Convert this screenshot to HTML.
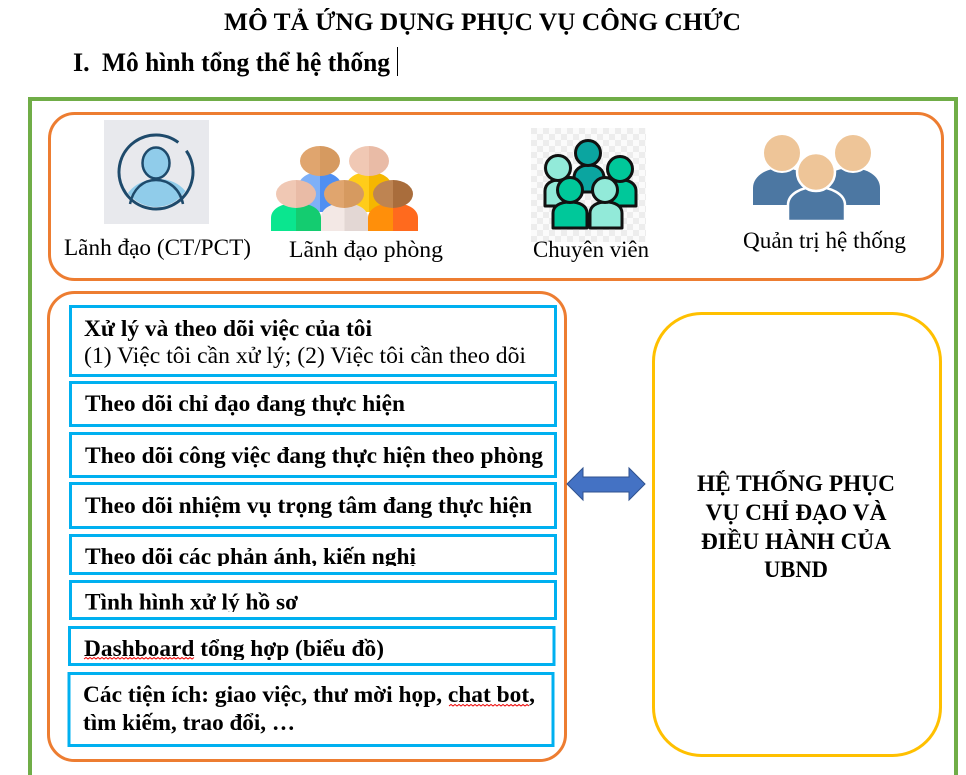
<!DOCTYPE html>
<html>
<head>
<meta charset="utf-8">
<style>
html,body{margin:0;padding:0;background:#fff;}
body{width:966px;height:775px;overflow:hidden;}
svg{display:block;}
text{font-family:"Liberation Serif","Times New Roman",serif;fill:#000;}
.b{font-weight:bold;}
</style>
</head>
<body>
<svg width="966" height="775" viewBox="0 0 966 775" xmlns="http://www.w3.org/2000/svg">
<defs>
  <linearGradient id="gBlue" x1="0" x2="1" y1="0" y2="0"><stop offset="0.5" stop-color="#7FB0F7"/><stop offset="0.5" stop-color="#4F8FF2"/></linearGradient>
  <linearGradient id="gYel" x1="0" x2="1" y1="0" y2="0"><stop offset="0.5" stop-color="#FFCC1A"/><stop offset="0.5" stop-color="#F5B700"/></linearGradient>
  <linearGradient id="gTan" x1="0" x2="1" y1="0" y2="0"><stop offset="0.5" stop-color="#E0A56E"/><stop offset="0.5" stop-color="#D69A60"/></linearGradient>
  <linearGradient id="gPink" x1="0" x2="1" y1="0" y2="0"><stop offset="0.5" stop-color="#F0C8B4"/><stop offset="0.5" stop-color="#E9BBA6"/></linearGradient>
  <linearGradient id="gBrown" x1="0" x2="1" y1="0" y2="0"><stop offset="0.5" stop-color="#BE8452"/><stop offset="0.5" stop-color="#A96D3C"/></linearGradient>
  <linearGradient id="gGreen" x1="0" x2="1" y1="0" y2="0"><stop offset="0.5" stop-color="#0AE68F"/><stop offset="0.5" stop-color="#14CC70"/></linearGradient>
  <linearGradient id="gLight" x1="0" x2="1" y1="0" y2="0"><stop offset="0.5" stop-color="#F3E8E5"/><stop offset="0.5" stop-color="#E3D7D4"/></linearGradient>
  <linearGradient id="gOrange" x1="0" x2="1" y1="0" y2="0"><stop offset="0.5" stop-color="#FF8F0A"/><stop offset="0.5" stop-color="#FF6A1E"/></linearGradient>
  <pattern id="chk" x="531" y="128" width="12" height="12" patternUnits="userSpaceOnUse">
    <rect width="12" height="12" fill="#FBFBFB"/>
    <rect width="6" height="6" fill="#EDEDED"/>
    <rect x="6" y="6" width="6" height="6" fill="#EDEDED"/>
  </pattern>
  <clipPath id="c1"><circle cx="156" cy="172" r="35"/></clipPath>
  <clipPath id="clip5"><rect x="70" y="530" width="480" height="36"/></clipPath>
  <clipPath id="clip6"><rect x="70" y="580" width="480" height="32"/></clipPath>
  <clipPath id="clip7"><rect x="70" y="626" width="480" height="34"/></clipPath>
</defs>

<!-- Title & heading -->
<text class="b" x="224" y="30" font-size="25.5" textLength="517" lengthAdjust="spacingAndGlyphs">MÔ TẢ ỨNG DỤNG PHỤC VỤ CÔNG CHỨC</text>
<text class="b" x="73" y="71" font-size="26">I.</text>
<text class="b" x="102" y="71" font-size="26" textLength="288" lengthAdjust="spacingAndGlyphs">Mô hình tổng thể hệ thống</text>
<line x1="397.5" y1="47" x2="397.5" y2="76" stroke="#000" stroke-width="1"/>

<!-- Green outer frame -->
<rect x="30" y="99" width="926" height="700" fill="none" stroke="#70AD47" stroke-width="4"/>

<!-- Top orange box -->
<rect x="49.5" y="113.5" width="893" height="166" rx="25" ry="25" fill="none" stroke="#ED7D31" stroke-width="3"/>

<!-- Icon 1 -->
<rect x="104" y="120" width="105" height="104" fill="#E8E9ED"/>
<path d="M118,228 C118,192 138,179 158,179 C178,179 196,192 196,228 Z" fill="#90CCEA" clip-path="url(#c1)"/>
<path d="M130,204 C133,189 143,180 156,180 C169,180 180,189 183,204" fill="none" stroke="#1E4A6B" stroke-width="2.5"/>
<ellipse cx="156" cy="163" rx="13.5" ry="15.5" fill="#90CCEA" stroke="#1E4A6B" stroke-width="2.5"/>
<circle cx="156" cy="172" r="37" fill="none" stroke="#1E4A6B" stroke-width="3" stroke-dasharray="220.5 12" transform="rotate(-35 156 172)"/>

<!-- Icon 2 -->
<path d="M298,212 V188 C298,178 308,172 320,172 C332,172 342,178 342,188 V212 Z" fill="url(#gBlue)"/>
<path d="M346,212 V188 C346,178 356,172 369,172 C382,172 392,178 392,188 V212 Z" fill="url(#gYel)"/>
<ellipse cx="320" cy="161" rx="20" ry="15" fill="url(#gTan)"/>
<ellipse cx="369" cy="161" rx="20" ry="15" fill="url(#gPink)"/>
<path d="M271,231 V218 C271,208 283,203 296,203 C309,203 321,208 321,218 V231 Z" fill="url(#gGreen)"/>
<path d="M321,231 V218 C321,208 332,203 344,203 C356,203 368,208 368,218 V231 Z" fill="url(#gLight)"/>
<path d="M368,231 V218 C368,208 380,203 393,203 C406,203 418,208 418,218 V231 Z" fill="url(#gOrange)"/>
<ellipse cx="296" cy="194" rx="20" ry="14" fill="url(#gPink)"/>
<ellipse cx="344" cy="194" rx="20" ry="14" fill="url(#gTan)"/>
<ellipse cx="393" cy="194" rx="20" ry="14" fill="url(#gBrown)"/>

<!-- Icon 3 -->
<rect x="531" y="128" width="115" height="114" fill="url(#chk)"/>
<g stroke="#111" stroke-width="3" stroke-linejoin="round">
  <path d="M574,192 V178 C574,170 580,165 589,165 C598,165 604,170 604,178 V192 Z" fill="#0BA5A0"/>
  <circle cx="588" cy="153" r="12.5" fill="#0BA5A0"/>
  <path d="M545,206 V191 C545,184 551,180 559,180 C567,180 573,184 573,191 V206 Z" fill="#92EAD9"/>
  <circle cx="558" cy="168" r="12.5" fill="#92EAD9"/>
  <path d="M608,206 V191 C608,184 614,180 622,180 C630,180 636,184 636,191 V206 Z" fill="#00C89A"/>
  <circle cx="620" cy="169" r="12.5" fill="#00C89A"/>
  <path d="M553,228 V213 C553,206 560,202 570,202 C580,202 587,206 587,213 V228 Z" fill="#00C89A"/>
  <circle cx="570" cy="190" r="12.5" fill="#00C89A"/>
  <path d="M590,228 V213 C590,206 597,202 606,202 C615,202 622,206 622,213 V228 Z" fill="#92EAD9"/>
  <circle cx="605" cy="190" r="12.5" fill="#92EAD9"/>
</g>

<!-- Icon 4 -->
<path d="M753,205 V188 C753,176 766,168 782,168 C798,168 811,176 811,188 V205 Z" fill="#4C77A2"/>
<path d="M822,205 V188 C822,176 835,168 851,168 C867,168 880,176 880,188 V205 Z" fill="#4C77A2"/>
<circle cx="782" cy="153" r="19" fill="#EEC598" stroke="#fff" stroke-width="2"/>
<circle cx="853" cy="153" r="19" fill="#EEC598" stroke="#fff" stroke-width="2"/>
<path d="M788,221 V205 C788,194 801,187 816,187 C831,187 845,194 845,205 V221 Z" fill="#4C77A2" stroke="#fff" stroke-width="2.5"/>
<circle cx="816" cy="172" r="19" fill="#EEC598" stroke="#fff" stroke-width="2.5"/>

<!-- Top labels -->
<text x="64" y="255" font-size="23.3" textLength="187" lengthAdjust="spacingAndGlyphs">Lãnh đạo (CT/PCT)</text>
<text x="289" y="257" font-size="23.3" textLength="154" lengthAdjust="spacingAndGlyphs">Lãnh đạo phòng</text>
<text x="533" y="257" font-size="23.3" textLength="116" lengthAdjust="spacingAndGlyphs">Chuyên viên</text>
<text x="743" y="248" font-size="23.3" textLength="163" lengthAdjust="spacingAndGlyphs">Quản trị hệ thống</text>

<!-- Left orange box -->
<rect x="48.5" y="292.5" width="517" height="468" rx="26" ry="26" fill="none" stroke="#ED7D31" stroke-width="3"/>

<!-- Blue boxes -->
<g fill="none" stroke="#00B0F0" stroke-width="3">
  <rect x="70.5" y="306.5" width="485" height="69"/>
  <rect x="70.5" y="382.5" width="485" height="43"/>
  <rect x="70.5" y="433.5" width="485" height="43"/>
  <rect x="70.5" y="483.5" width="485" height="44"/>
  <rect x="70.5" y="535.5" width="485" height="38"/>
  <rect x="70.5" y="581.5" width="485" height="37"/>
  <rect x="69.5" y="627.5" width="484.5" height="37"/>
  <rect x="69" y="673.5" width="484" height="72"/>
</g>

<!-- Box texts -->
<text class="b" x="84" y="336" font-size="23.3" textLength="288" lengthAdjust="spacingAndGlyphs">Xử lý và theo dõi việc của tôi</text>
<text x="84" y="363" font-size="23.3" textLength="442" lengthAdjust="spacingAndGlyphs">(1) Việc tôi cần xử lý; (2) Việc tôi cần theo dõi</text>
<text class="b" x="85" y="411" font-size="23.3" textLength="320" lengthAdjust="spacingAndGlyphs">Theo dõi chỉ đạo đang thực hiện</text>
<text class="b" x="85" y="463" font-size="23.3" textLength="458" lengthAdjust="spacingAndGlyphs">Theo dõi công việc đang thực hiện theo phòng</text>
<text class="b" x="85" y="513" font-size="23.3" textLength="447" lengthAdjust="spacingAndGlyphs">Theo dõi nhiệm vụ trọng tâm đang thực hiện</text>
<g clip-path="url(#clip5)">
<text class="b" x="85" y="564" font-size="23.3" textLength="331" lengthAdjust="spacingAndGlyphs">Theo dõi các phản ánh, kiến nghị</text>
</g>
<g clip-path="url(#clip6)">
<text class="b" x="85" y="609.5" font-size="23.3" textLength="213" lengthAdjust="spacingAndGlyphs">Tình hình xử lý hồ sơ</text>
</g>
<g clip-path="url(#clip7)">
<text class="b" x="84" y="656" font-size="23.3" textLength="300" lengthAdjust="spacingAndGlyphs">Dashboard tổng hợp (biểu đồ)</text>
</g>
<path d="M84,659 l2,-1.5 l2,1.5 l2,-1.5 l2,1.5 l2,-1.5 l2,1.5 l2,-1.5 l2,1.5 l2,-1.5 l2,1.5 l2,-1.5 l2,1.5 l2,-1.5 l2,1.5 l2,-1.5 l2,1.5 l2,-1.5 l2,1.5 l2,-1.5 l2,1.5 l2,-1.5 l2,1.5 l2,-1.5 l2,1.5 l2,-1.5 l2,1.5 l2,-1.5 l2,1.5 l2,-1.5 l2,1.5 l2,-1.5 l2,1.5 l2,-1.5 l2,1.5 l2,-1.5 l2,1.5 l2,-1.5 l2,1.5 l2,-1.5 l2,1.5 l2,-1.5 l2,1.5 l2,-1.5 l2,1.5 l2,-1.5 l2,1.5 l2,-1.5 l2,1.5 l2,-1.5 l2,1.5 l2,-1.5 l2,1.5 l2,-1.5 l2,1.5 l2,-1.5" fill="none" stroke="#E00" stroke-width="1"/>
<text class="b" x="83" y="702" font-size="23.3" textLength="452" lengthAdjust="spacingAndGlyphs">Các tiện ích: giao việc, thư mời họp, chat bot,</text>
<path d="M449,706 l2,-1.5 l2,1.5 l2,-1.5 l2,1.5 l2,-1.5 l2,1.5 l2,-1.5 l2,1.5 l2,-1.5 l2,1.5 l2,-1.5 l2,1.5 l2,-1.5 l2,1.5 l2,-1.5 l2,1.5 l2,-1.5 l2,1.5 l2,-1.5 l2,1.5 l2,-1.5 l2,1.5 l2,-1.5 l2,1.5 l2,-1.5 l2,1.5 l2,-1.5 l2,1.5 l2,-1.5 l2,1.5 l2,-1.5 l2,1.5 l2,-1.5 l2,1.5 l2,-1.5 l2,1.5 l2,-1.5 l2,1.5 l2,-1.5 l2,1.5" fill="none" stroke="#E00" stroke-width="1"/>
<text class="b" x="83" y="730" font-size="23.3" textLength="212" lengthAdjust="spacingAndGlyphs">tìm kiếm, trao đổi, …</text>

<!-- Double arrow -->
<polygon points="567,484 583,468 583,477 629,477 629,468 645,484 629,500 629,492 583,492 583,500" fill="#4472C4" stroke="#2F528F" stroke-width="1" stroke-linejoin="miter"/>

<!-- Yellow box -->
<rect x="653.5" y="313.5" width="287" height="442" rx="48" ry="48" fill="none" stroke="#FFC000" stroke-width="3"/>
<text class="b" x="796" y="491" font-size="23.3" text-anchor="middle" textLength="198" lengthAdjust="spacingAndGlyphs">HỆ THỐNG PHỤC</text>
<text class="b" x="796" y="520" font-size="23.3" text-anchor="middle" textLength="181" lengthAdjust="spacingAndGlyphs">VỤ CHỈ ĐẠO VÀ</text>
<text class="b" x="796" y="549" font-size="23.3" text-anchor="middle" textLength="190" lengthAdjust="spacingAndGlyphs">ĐIỀU HÀNH CỦA</text>
<text class="b" x="796" y="577" font-size="23.3" text-anchor="middle" textLength="64" lengthAdjust="spacingAndGlyphs">UBND</text>
</svg>
</body>
</html>
